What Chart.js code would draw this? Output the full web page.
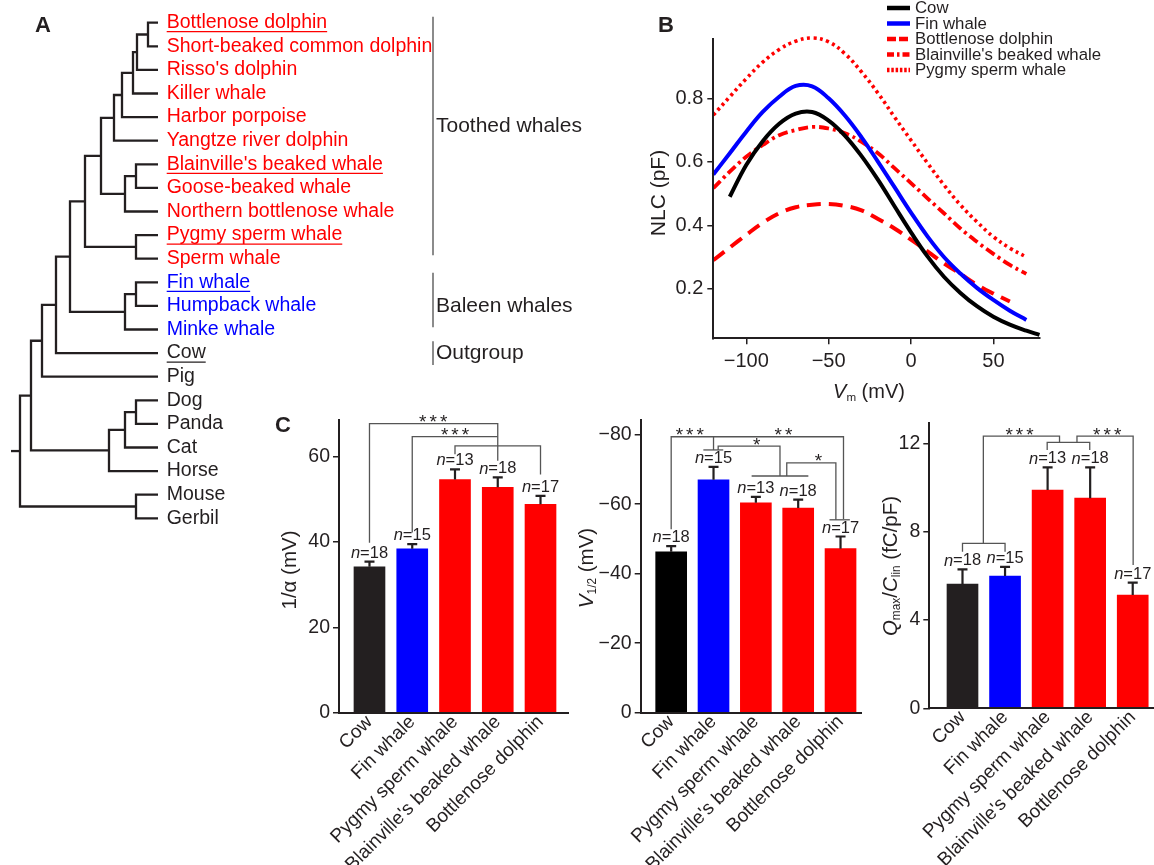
<!DOCTYPE html>
<html><head><meta charset="utf-8">
<script src="https://cdn.jsdelivr.net/npm/chart.js@4.4.1/dist/chart.umd.min.js"></script>
<style>
html,body{margin:0;padding:0;background:#fff;}
#page{position:relative;width:1154px;height:865px;overflow:hidden;background:#fff}
#page canvas{position:absolute}
</style></head>
<body><div id="page">
<canvas id="treeA"></canvas>
<canvas id="nlcB"></canvas>
<canvas id="barC1"></canvas>
<canvas id="barC2"></canvas>
<canvas id="barC3"></canvas>
</div>
<script>
// ================= DATA =================
// Panel A: phylogeny (leaf order top to bottom)
const treeLeaves = ['Bottlenose dolphin','Short-beaked common dolphin',"Risso's dolphin",'Killer whale','Harbor porpoise','Yangtze river dolphin',"Blainville's beaked whale",'Goose-beaked whale','Northern bottlenose whale','Pygmy sperm whale','Sperm whale','Fin whale','Humpback whale','Minke whale','Cow','Pig','Dog','Panda','Cat','Horse','Mouse','Gerbil'];
const underlinedLeaves = ['Bottlenose dolphin',"Blainville's beaked whale",'Pygmy sperm whale','Fin whale','Cow'];
// internal nodes: [id, node depth (distance from tips), child A, child B]
const treeNodes = [
  ['n1',10,'Bottlenose dolphin','Short-beaked common dolphin'],
  ['n2',21,'n1',"Risso's dolphin"],
  ['n3',25,'n2','Killer whale'],
  ['n4',36,'n3','Harbor porpoise'],
  ['n5',44,'n4','Yangtze river dolphin'],
  ['n6',22,"Blainville's beaked whale",'Goose-beaked whale'],
  ['n7',33,'n6','Northern bottlenose whale'],
  ['n8',57,'n5','n7'],
  ['n9',22,'Pygmy sperm whale','Sperm whale'],
  ['n10',73,'n8','n9'],
  ['n11',22,'Fin whale','Humpback whale'],
  ['n12',33,'n11','Minke whale'],
  ['n13',88,'n10','n12'],
  ['n14',102,'n13','Cow'],
  ['n15',116,'n14','Pig'],
  ['n16',22,'Dog','Panda'],
  ['n17',33,'n16','Cat'],
  ['n18',49,'n17','Horse'],
  ['n19',127,'n15','n18'],
  ['n20',22,'Mouse','Gerbil'],
  ['root',138,'n19','n20']
];
const rootStemDepth = 147;
const cladeNames = ['Toothed whales','Baleen whales','Outgroup'];
const cladeFirstLeaf = [0, 11, 14];
const cladeLastLeaf = [10, 13, 14];

// Panel B: NLC curves
const seriesB = ['Cow','Fin whale','Bottlenose dolphin',"Blainville's beaked whale",'Pygmy sperm whale'];
const vmCow = [-110,-100,-90,-80,-70,-60,-50,-40,-30,-20,-10,0,10,20,30,40,50,60,70,78];
const nlcCow = [0.49,0.59,0.665,0.72,0.752,0.757,0.73,0.682,0.618,0.543,0.46,0.378,0.302,0.238,0.187,0.145,0.112,0.087,0.068,0.055];
const vmFin = [-120,-110,-100,-90,-80,-70,-60,-50,-40,-30,-20,-10,0,10,20,30,40,50,60,70];
const nlcFin = [0.56,0.627,0.695,0.757,0.805,0.839,0.838,0.80,0.745,0.677,0.60,0.52,0.44,0.365,0.30,0.248,0.203,0.165,0.131,0.102];
const vmBottlenose = [-120,-110,-100,-90,-80,-70,-60,-50,-40,-30,-20,-10,0,10,20,30,40,50,60];
const nlcBottlenose = [0.29,0.33,0.37,0.408,0.438,0.457,0.465,0.467,0.461,0.447,0.42,0.39,0.355,0.318,0.28,0.247,0.213,0.185,0.16];
const vmBlainville = [-120,-110,-100,-90,-80,-70,-60,-50,-40,-30,-20,-10,0,10,20,30,40,50,60,70];
const nlcBlainville = [0.517,0.569,0.616,0.653,0.684,0.70,0.71,0.705,0.69,0.663,0.627,0.58,0.533,0.485,0.438,0.39,0.348,0.31,0.275,0.247];
const vmPygmy = [-120,-110,-100,-90,-80,-70,-60,-50,-40,-30,-20,-10,0,10,20,30,40,50,60,70];
const nlcPygmy = [0.747,0.805,0.862,0.914,0.954,0.98,0.99,0.978,0.94,0.883,0.816,0.741,0.668,0.596,0.527,0.464,0.411,0.364,0.328,0.30];
const vmTicks = [-100, -50, 0, 50];
const nlcTicks = [0.2, 0.4, 0.6, 0.8];

// Panel C: bar charts
const speciesC = ['Cow','Fin whale','Pygmy sperm whale',"Blainville's beaked whale",'Bottlenose dolphin'];
const nCounts = [18, 15, 13, 18, 17];
const invAlphaMean = [34.2, 38.4, 54.6, 52.8, 48.8];
const invAlphaSem  = [1.2, 1.1, 2.4, 2.3, 2.0];
const invAlphaTicks = [0, 20, 40, 60];
const vHalfMean = [-46.3, -67.0, -60.4, -58.9, -47.2];
const vHalfSem  = [1.6, 3.7, 1.7, 2.4, 3.5];
const vHalfTicks = [-80, -60, -40, -20, 0];
const qClinMean = [5.63, 5.99, 9.89, 9.52, 5.13];
const qClinSem  = [0.66, 0.42, 1.02, 1.39, 0.56];
const qClinTicks = [0, 4, 8, 12];
// significance brackets: polylines in (category index, value) units
const invAlphaBrackets = [
  [[0,39.8],[0,67.7],[3,67.7],[3,59.0]],
  [[1,42.2],[1,64.65],[3,64.65]],
  [[2,60.5],[2,62.5],[4,62.5],[4,55.8]]
];
const invAlphaStars = [['***',1.49,67.7],['***',2.0,64.65]];
const vHalfBrackets = [
  [[0,-52.8],[0,-79.4],[4.07,-79.4],[4.07,-55.7]],
  [[1,-79.4],[1,-75.6]],
  [[0.76,-75.6],[1.23,-75.6]],
  [[1.11,-75.6],[1.11,-76.7],[2.57,-76.7],[2.57,-68.1]],
  [[1.90,-68.1],[3.24,-68.1]],
  [[2.73,-68.1],[2.73,-71.9],[3.89,-71.9],[3.89,-55.5]],
  [[3.74,-55.5],[4.22,-55.5]]
];
const vHalfStars = [['***',0.44,-79.4],['**',2.65,-79.4],['*',2.02,-76.7],['*',3.48,-71.9]];
const qClinBrackets = [
  [[0,7.09],[0,7.47],[1,7.47],[1,7.09]],
  [[0.49,7.47],[0.49,12.33],[2.28,12.33],[2.28,12.05]],
  [[1.99,11.70],[1.99,12.05],[2.99,12.05],[2.99,11.70]],
  [[2.69,12.05],[2.69,12.33],[4.01,12.33],[4.01,6.49]]
];
const qClinStars = [['***',1.34,12.33],['***',3.40,12.33]];

// ================= RENDERING =================
const INK = '#231f20';
const RED = '#ff0000', BLUE = '#0000ff';
const FAM = '"Liberation Sans", Arial, Helvetica, sans-serif';
Chart.defaults.font.family = FAM;
Chart.defaults.color = INK;
Chart.defaults.animation = false;

function place(id, left, top, w, h) {
  const c = document.getElementById(id);
  c.width = w; c.height = h;
  c.style.left = left + 'px'; c.style.top = top + 'px';
  c.style.width = w + 'px'; c.style.height = h + 'px';
  return c;
}
function font(size, italic, bold) { return (italic ? 'italic ' : '') + (bold ? 'bold ' : '') + size + 'px ' + FAM; }
function drawRich(ctx, parts, x, y, size, opts = {}) {
  ctx.save();
  ctx.translate(x, y);
  if (opts.rotate) ctx.rotate(opts.rotate);
  const items = parts.map(([t, f = '']) => {
    const sub = f.includes('s');
    const sz = sub ? size * 0.58 : size;
    const fnt = font(sz, f.includes('i'));
    ctx.font = fnt;
    return { t, fnt, w: ctx.measureText(t).width, dy: sub ? size * 0.3 : 0 };
  });
  const total = items.reduce((a, b) => a + b.w, 0);
  let cx = opts.align === 'left' ? 0 : -total / 2;
  ctx.fillStyle = opts.color || INK;
  ctx.textBaseline = 'middle';
  ctx.textAlign = 'left';
  for (const it of items) { ctx.font = it.fnt; ctx.fillText(it.t, cx, it.dy); cx += it.w; }
  ctx.restore();
  return total;
}
const fmtMinus = v => (v < 0 ? '\u2212' + (-v) : String(v));
const fixTicks = vals => (axis => { axis.ticks = vals.map(v => ({ value: v })); });
const baseOpts = { responsive: false, devicePixelRatio: 1, animation: false, events: [] };
const noPlugins = { legend: { display: false }, tooltip: { enabled: false } };

// ---------- Panel A ----------
(function () {
  const L = 0, T = 0;
  const pos = {};
  treeLeaves.forEach((n, i) => pos[n] = { h: 0, y: i });
  const segs = treeNodes.map(([id, h, a, b]) => {
    const A = pos[a], B = pos[b];
    pos[id] = { h, y: (A.y + B.y) / 2 };
    return [{ x: A.h, y: A.y }, { x: h, y: A.y }, { x: h, y: B.y }, { x: B.h, y: B.y }];
  });
  const r = pos['root'];
  segs.push([{ x: r.h, y: r.y }, { x: rootStemDepth, y: r.y }]);
  const leafColor = i => (i <= cladeLastLeaf[0] ? RED : (i <= cladeLastLeaf[1] ? BLUE : INK));
  new Chart(place('treeA', L, T, 640, 540), {
    type: 'line',
    data: { datasets: segs.map(s => ({ data: s, borderColor: INK, borderWidth: 2.3, pointRadius: 0, tension: 0, clip: false, borderJoinStyle: 'miter' })) },
    options: Object.assign({}, baseOpts, {
      layout: { padding: { left: 0, top: 10.9, right: 482, bottom: 9.9 } },
      plugins: noPlugins,
      scales: {
        x: { type: 'linear', min: 0, max: 158, reverse: true, display: false },
        y: { type: 'linear', min: -0.5, max: 21.5, reverse: true, display: false }
      }
    }),
    plugins: [{
      id: 'treeText',
      afterDraw(chart) {
        const { ctx, scales: { x, y } } = chart;
        ctx.save();
        const tx = x.getPixelForValue(0) + 8.7;
        treeLeaves.forEach((name, i) => {
          const col = leafColor(i);
          const py = y.getPixelForValue(i);
          ctx.font = font(19.5); ctx.fillStyle = col; ctx.textBaseline = 'middle'; ctx.textAlign = 'left';
          ctx.fillText(name, tx, py);
          if (underlinedLeaves.includes(name)) {
            const w = ctx.measureText(name).width;
            ctx.strokeStyle = col; ctx.lineWidth = 1.3;
            ctx.beginPath(); ctx.moveTo(tx, py + 9); ctx.lineTo(tx + w, py + 9); ctx.stroke();
          }
        });
        // clade brackets
        const ext = [[-0.25, 9.85, 4.4], [10.6, 12.9, 12.0], [13.5, 14.5, 14.0]];
        cladeNames.forEach((nm, k) => {
          const [a, b, lab] = ext[k];
          ctx.strokeStyle = '#4d4d4d'; ctx.lineWidth = 1.3;
          ctx.beginPath(); ctx.moveTo(433 - L, y.getPixelForValue(a)); ctx.lineTo(433 - L, y.getPixelForValue(b)); ctx.stroke();
          ctx.font = font(21); ctx.fillStyle = INK; ctx.textBaseline = 'middle'; ctx.textAlign = 'left';
          ctx.fillText(nm, 436 - L, y.getPixelForValue(lab));
        });
        ctx.font = font(22, false, true); ctx.textAlign = 'center'; ctx.textBaseline = 'middle'; ctx.fillStyle = INK;
        ctx.fillText('A', 43 - L, 26 - T);
        ctx.restore();
      }
    }]
  });
})();

// ---------- Panel B ----------
(function () {
  const L = 640, T = 0;
  const xs = [vmCow, vmFin, vmBottlenose, vmBlainville, vmPygmy];
  const ys = [nlcCow, nlcFin, nlcBottlenose, nlcBlainville, nlcPygmy];
  const colors = ['#000000', BLUE, RED, RED, RED];
  const dashes = [[], [], [14, 8], [10, 4, 3, 4], [3, 3.5]];
  const widths = [4, 4, 4, 3.8, 3.6];
  const legDash = [[], [], [9, 3], [7, 3, 2.5, 3], [2.5, 1.8]];
  new Chart(place('nlcB', L, T, 514, 410), {
    type: 'line',
    data: {
      datasets: seriesB.map((name, k) => ({
        label: name,
        data: xs[k].map((v, i) => ({ x: v, y: ys[k][i] })),
        borderColor: colors[k], borderWidth: widths[k], borderDash: dashes[k],
        pointRadius: 0, tension: 0.4, clip: false, fill: false
      }))
    },
    options: Object.assign({}, baseOpts, {
      layout: { padding: { left: 0, top: 39.3, right: 114, bottom: 0 } },
      plugins: noPlugins,
      scales: {
        x: {
          type: 'linear', min: -120, max: 78.3,
          border: { display: true, color: INK, width: 2, z: 1 },
          grid: { display: true, drawOnChartArea: false, drawTicks: true, tickLength: 6, color: INK, lineWidth: 1.5 },
          ticks: { padding: 5, color: INK, font: { size: 20 }, callback: v => fmtMinus(v) },
          afterBuildTicks: fixTicks(vmTicks),
          afterFit: s => { s.height = 71.7; }
        },
        y: {
          type: 'linear', min: 0.044, max: 0.986,
          border: { display: true, color: INK, width: 2, z: 1 },
          grid: { display: true, drawOnChartArea: false, drawTicks: true, tickLength: 6, color: INK, lineWidth: 1.5 },
          ticks: { padding: 4, color: INK, font: { size: 20 }, callback: v => v.toFixed(1) },
          afterBuildTicks: fixTicks(nlcTicks),
          afterFit: s => { s.width = 73.3; }
        }
      }
    }),
    plugins: [{
      id: 'bDeco',
      afterDraw(chart) {
        const ctx = chart.ctx;
        ctx.save();
        drawRich(ctx, [['NLC (pF)']], 659 - L, 193 - T, 21, { rotate: -Math.PI / 2 });
        drawRich(ctx, [['V', 'i'], ['m', 's'], [' (mV)']], 869 - L, 392 - T, 20);
        ctx.font = font(22, false, true); ctx.textAlign = 'center'; ctx.textBaseline = 'middle'; ctx.fillStyle = INK;
        ctx.fillText('B', 666 - L, 26 - T);
        // legend
        const rows = [8, 23.5, 39, 54.5, 70];
        seriesB.forEach((name, k) => {
          const yy = rows[k] - T;
          ctx.strokeStyle = colors[k]; ctx.lineWidth = 4.5; ctx.setLineDash(legDash[k]); ctx.lineCap = 'butt';
          ctx.beginPath(); ctx.moveTo(887 - L, yy); ctx.lineTo(910 - L, yy); ctx.stroke();
          ctx.setLineDash([]);
          ctx.font = font(16.8); ctx.fillStyle = INK; ctx.textAlign = 'left'; ctx.textBaseline = 'middle';
          ctx.fillText(name, 915 - L, yy + 0.5);
        });
        ctx.restore();
      }
    }]
  });
})();

// ---------- Panel C ----------
function barChart(id, r, cfg) {
  new Chart(place(id, r.left, r.top, r.w, r.h), {
    type: 'bar',
    data: { datasets: [{ data: cfg.mean.map((v, i) => ({ x: i, y: v })), backgroundColor: cfg.colors, barThickness: 31, borderWidth: 0 }] },
    options: Object.assign({}, baseOpts, {
      layout: { padding: { left: 0, top: r.padTop, right: r.padRight, bottom: 0 } },
      plugins: noPlugins,
      scales: {
        x: {
          type: 'linear', min: cfg.xmin, max: cfg.xmax, offset: false,
          border: { display: true, color: INK, width: 2, z: 1 },
          grid: { display: false, drawTicks: false },
          ticks: {
            autoSkip: false, minRotation: 45, maxRotation: 45,
            padding: -2, color: INK, font: { size: 19 },
            callback: v => (Number.isInteger(v) && v >= 0 && v < speciesC.length ? speciesC[v] : '')
          },
          afterBuildTicks: fixTicks(speciesC.map((s, i) => i)),
          afterFit: s => { s.height = r.xH; }
        },
        y: {
          type: 'linear', min: cfg.ymin, max: cfg.ymax, reverse: !!cfg.reverse,
          border: { display: true, color: INK, width: 2, z: 1 },
          grid: { display: true, drawOnChartArea: false, drawTicks: true, tickLength: 6, color: INK, lineWidth: 1.5 },
          ticks: { padding: 3, color: INK, font: { size: 19.5 }, callback: v => fmtMinus(v) },
          afterBuildTicks: fixTicks(cfg.ticks),
          afterFit: s => { s.width = r.yW; }
        }
      }
    }),
    plugins: [{
      id: id + 'Ann',
      afterDraw(chart) {
        const { ctx, scales: { x: xs, y: ys } } = chart;
        ctx.save();
        // error bars + n labels
        cfg.mean.forEach((m, i) => {
          const e = m + Math.sign(m) * cfg.sem[i];
          const px = xs.getPixelForValue(i), y0 = ys.getPixelForValue(m), y1 = ys.getPixelForValue(e);
          ctx.strokeStyle = INK; ctx.lineWidth = 2.2; ctx.lineCap = 'butt';
          ctx.beginPath(); ctx.moveTo(px, y0); ctx.lineTo(px, y1); ctx.moveTo(px - 5, y1); ctx.lineTo(px + 5, y1); ctx.stroke();
          drawRich(ctx, [['n', 'i'], ['=' + nCounts[i]]], px, y1 - 8.5, 16.5);
        });
        // brackets
        ctx.strokeStyle = '#555555'; ctx.lineWidth = 1.3;
        cfg.brackets.forEach(pl => {
          ctx.beginPath();
          pl.forEach(([a, b], k) => {
            const X = xs.getPixelForValue(a), Y = ys.getPixelForValue(b);
            if (k) ctx.lineTo(X, Y); else ctx.moveTo(X, Y);
          });
          ctx.stroke();
        });
        // stars
        ctx.fillStyle = INK; ctx.font = font(19); ctx.textAlign = 'center'; ctx.textBaseline = 'alphabetic';
        ctx.letterSpacing = '3px';
        cfg.stars.forEach(([t, a, b]) => ctx.fillText(t, xs.getPixelForValue(a) + 1.5, ys.getPixelForValue(b) + 4.5));
        ctx.letterSpacing = '0px';
        // axis title
        drawRich(ctx, cfg.title, cfg.titleX - r.left, cfg.titleY - r.top, 20.5, { rotate: -Math.PI / 2 });
        if (cfg.panel) {
          ctx.font = font(22, false, true); ctx.textAlign = 'center'; ctx.textBaseline = 'middle'; ctx.fillStyle = INK;
          ctx.fillText(cfg.panel, 283 - r.left, 426 - r.top);
        }
        ctx.restore();
      }
    }]
  });
}

barChart('barC1', { left: 270, top: 405, w: 300, h: 460, padTop: 13, padRight: 2, yW: 69, xH: 152 }, {
  mean: invAlphaMean, sem: invAlphaSem, colors: [INK, BLUE, RED, RED, RED],
  xmin: -0.713, xmax: 4.643, ymin: 0, ymax: 68.6, ticks: invAlphaTicks,
  brackets: invAlphaBrackets, stars: invAlphaStars,
  title: [['1/\u03b1 (mV)']], titleX: 290, titleY: 570, panel: 'C'
});
barChart('barC2', { left: 570, top: 405, w: 294, h: 460, padTop: 13.3, padRight: 2.3, yW: 70.7, xH: 152.3 }, {
  mean: vHalfMean, sem: vHalfSem, colors: ['#000000', BLUE, RED, RED, RED],
  xmin: -0.72, xmax: 4.50, ymin: -84.3, ymax: 0, ticks: vHalfTicks, reverse: true,
  brackets: vHalfBrackets, stars: vHalfStars,
  title: [['V', 'i'], ['1/2', 's'], [' (mV)']], titleX: 587, titleY: 568
});
barChart('barC3', { left: 864, top: 405, w: 290, h: 460, padTop: 18.3, padRight: 0, yW: 65.3, xH: 156.7 }, {
  mean: qClinMean, sem: qClinSem, colors: [INK, BLUE, RED, RED, RED],
  xmin: -0.78, xmax: 4.50, ymin: 0, ymax: 12.91, ticks: qClinTicks,
  brackets: qClinBrackets, stars: qClinStars,
  title: [['Q', 'i'], ['max', 's'], ['/'], ['C', 'i'], ['lin', 's'], [' (fC/pF)']], titleX: 891, titleY: 566
});
</script>
</body></html>
